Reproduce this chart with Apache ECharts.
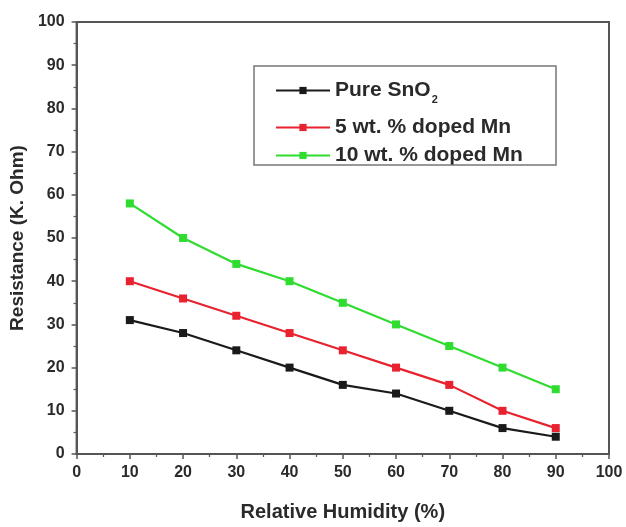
<!DOCTYPE html>
<html>
<head>
<meta charset="utf-8">
<style>
  html, body { margin: 0; padding: 0; background: #fff; }
  #chart { width: 626px; height: 527px; }
</style>
<script src="https://cdn.jsdelivr.net/npm/echarts@6/dist/echarts.min.js"></script>
</head>
<body>
<div id="chart"></div>
<script>
// Relative humidity (%) at which resistance was measured
const humidity = [10, 20, 30, 40, 50, 60, 70, 80, 90];

// Resistance (K. Ohm) for each sample
const pureSnO2 = [31, 28, 24, 20, 16, 14, 10, 6, 4];
const doped5Mn = [40, 36, 32, 28, 24, 20, 16, 10, 6];
const doped10Mn = [58, 50, 44, 40, 35, 30, 25, 20, 15];

const seriesNames = ['Pure SnO2', '5 wt. % doped Mn', '10 wt. % doped Mn'];
const seriesColors = ['#1a1a1a', '#e8222e', '#2fdc2f'];
const seriesValues = [pureSnO2, doped5Mn, doped10Mn];

const axisColor = '#555';
const textColor = '#2a2a2a';
const font = 'Liberation Sans, Arial, sans-serif';

const chart = echarts.init(document.getElementById('chart'), null, { renderer: 'canvas' });

const series = seriesNames.map((name, i) => ({
  name: name,
  type: 'line',
  data: humidity.map((h, j) => [h, seriesValues[i][j]]),
  symbol: 'rect',
  symbolSize: 8,
  lineStyle: { color: seriesColors[i], width: 2.2 },
  itemStyle: { color: seriesColors[i] },
  emphasis: { disabled: true },
  z: 3 - i
}));

// one legend per row so the rows can sit at their own heights
const legendTops = [75, 112, 140];
const legends = seriesNames.map((name, i) => ({
  data: [name],
  left: 270,
  top: legendTops[i],
  itemWidth: 54,
  itemHeight: 9,
  itemGap: 4,
  selectedMode: false,
  formatter: function (n) {
    return n === 'Pure SnO2' ? 'Pure SnO{sub|2}' : n;
  },
  textStyle: {
    fontFamily: font,
    fontWeight: 'bold',
    fontSize: 21,
    color: textColor,
    rich: {
      sub: {
        fontFamily: font,
        fontWeight: 'bold',
        fontSize: 11,
        color: textColor,
        verticalAlign: 'bottom',
        padding: [0, 0, -4, 1]
      }
    }
  }
}));

chart.setOption({
  animation: false,
  backgroundColor: '#fff',
  grid: {
    left: 75, right: 17, top: 22, bottom: 67,
    show: true,
    borderColor: axisColor,
    borderWidth: 2,
    backgroundColor: 'transparent'
  },
  legend: legends,
  graphic: [{
    type: 'rect',
    shape: { x: 254, y: 66, width: 302, height: 99 },
    style: { fill: 'transparent', stroke: '#777', lineWidth: 1.5 },
    z: 10
  }],
  xAxis: {
    type: 'value',
    min: 0, max: 100, interval: 10,
    name: 'Relative Humidity (%)',
    nameLocation: 'middle',
    nameGap: 48,
    nameTextStyle: { fontFamily: font, fontWeight: 'bold', fontSize: 20, color: textColor },
    axisLine: { show: true, lineStyle: { color: axisColor, width: 2 } },
    axisTick: { show: true, length: 5, lineStyle: { color: axisColor, width: 1.5 } },
    minorTick: { show: true, splitNumber: 2, length: 3, lineStyle: { color: axisColor, width: 1.2 } },
    splitLine: { show: false },
    axisLabel: { fontFamily: font, fontWeight: 'bold', fontSize: 16, color: textColor, margin: 11 }
  },
  yAxis: {
    type: 'value',
    min: 0, max: 100, interval: 10,
    name: 'Resistance (K. Ohm)',
    nameLocation: 'middle',
    nameGap: 45,
    nameTextStyle: { fontFamily: font, fontWeight: 'bold', fontSize: 19, color: textColor },
    axisLine: { show: true, lineStyle: { color: axisColor, width: 2 } },
    axisTick: { show: true, length: 5, lineStyle: { color: axisColor, width: 1.5 } },
    minorTick: { show: true, splitNumber: 2, length: 3, lineStyle: { color: axisColor, width: 1.2 } },
    splitLine: { show: false },
    axisLabel: { fontFamily: font, fontWeight: 'bold', fontSize: 16, color: textColor, margin: 12 }
  },
  series: series
});
</script>
</body>
</html>
